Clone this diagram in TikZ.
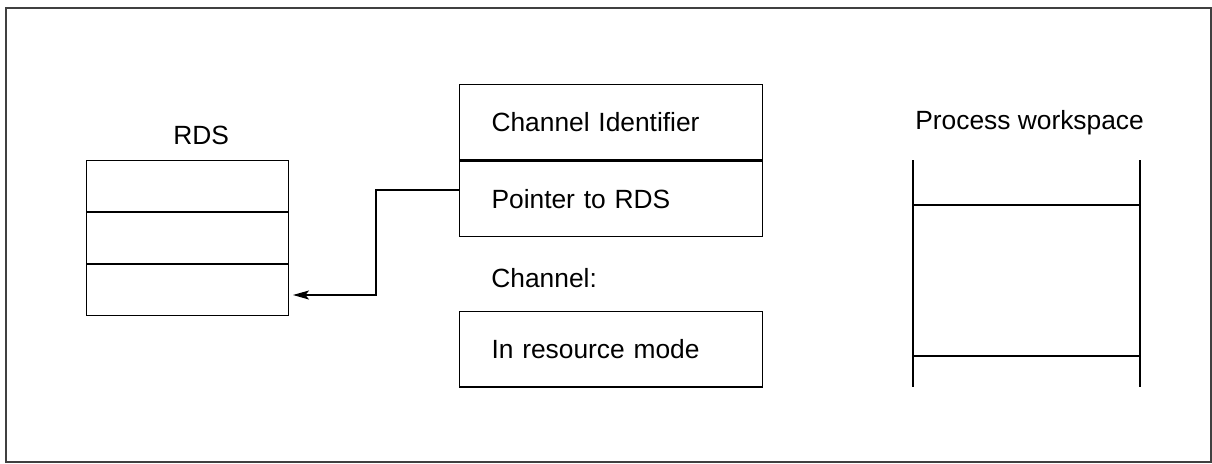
\documentclass[tikz,border=0pt]{standalone}
\usepackage{fontspec}
\setmainfont{Liberation Sans}
\usepackage{tikz}
\usetikzlibrary{positioning}
\usetikzlibrary{arrows.meta}
\tikzset{>={Stealth[length=0.32cm,width=0.18cm,inset=0.07cm]}}
\tikzset{
  cell/.style={draw, line width=0.6pt, rectangle, inner sep=0pt, minimum width=4.04cm, minimum height=1.02cm},
  field/.style={draw, line width=0.6pt, rectangle, inner ysep=0pt, inner xsep=0.64cm, minimum width=6.06cm,
    minimum height=1.51cm, text width=4.78cm, align=left, text height=0.38cm, text depth=0pt},
  caption/.style={anchor=base west, inner sep=0pt}
}
\begin{document}
\begin{tikzpicture}[x=0.02cm, y=-0.02cm, font=\fontsize{15}{18}\selectfont]
			\useasboundingbox (0,0) rectangle (1212,463);
			\draw [line width=1pt, black!75] (6,8) rectangle (1211,462);
			\node [caption] (rdslabel) at (173,144) {RDS};
			\node [cell, anchor=north west] (rds1) at (86,160) {};
			\node [cell, below=0pt of rds1] (rds2) {};
			\node [cell, below=0pt of rds2] (rds3) {};
			\node [field, anchor=north west] (chanid) at (459,84) {Channel Identifier};
			\node [field, below=0pt of chanid] (ptr) {Pointer to RDS};
			\node [caption] (chanlabel) at (491,287) {Channel:};
			\node [field, anchor=north west] (mode) at (459,311) {In resource mode};
			\node [caption] (pwlabel) at (915,129) {Process workspace};
			\draw [line width=0.7pt] (913,160) -- (913,387) (1140,160) -- (1140,387);
			\draw [line width=0.7pt] (913,205) -- (1140,205) (913,356) -- (1140,356);
			\coordinate (knee) at (376,190);
			\coordinate (tip) at (293,295);
			\draw [line width=0.6pt, ->] (knee -| ptr.west) -- (knee) |- (tip);
		\end{tikzpicture}
\end{document}
